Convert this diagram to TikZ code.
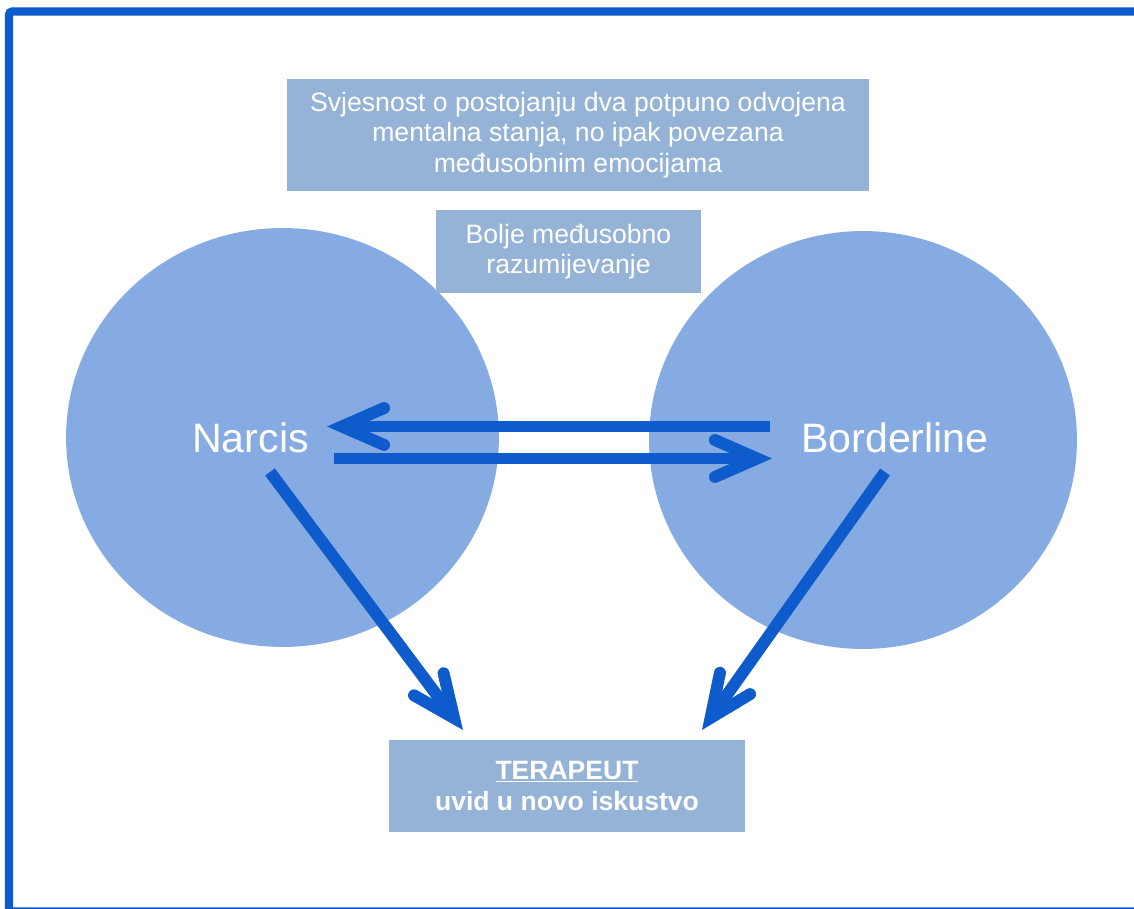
\documentclass[tikz,border=0pt]{standalone}
\usepackage{fontspec}
\setmainfont{Liberation Sans}
\usetikzlibrary{arrows.meta,shapes.geometric}
\definecolor{okvir}{RGB}{14,91,203}
\definecolor{krug}{RGB}{134,171,227}
\definecolor{kutija}{RGB}{149,179,215}
\begin{document}
\begin{tikzpicture}[x=0.02cm,y=-0.02cm,
	kutija/.style={fill=kutija,text=white,inner sep=0pt,align=center,font=\fontsize{15.15}{17.4}\selectfont},
	krug/.style={ellipse,fill=krug,inner sep=0pt},
	ime/.style={text=white,inner sep=0pt,anchor=base,font=\fontsize{23.4}{27}\selectfont},
	strelica/.style={okvir,line width=6.8pt,-{Straight Barb[length=24pt,width=21pt,line join=miter,line cap=round]}}]
	\clip (0,0) rectangle (1134,909);
	\useasboundingbox (0,0) rectangle (1134,909);
	\draw[okvir,line width=4.8pt,rounded corners=2pt] (9,11.5) rectangle (1145,911.5);
	% krugovi
	\node[krug,minimum width=8.66cm,minimum height=8.38cm] (narcis) at (282.5,437.5) {};
	\node[krug,minimum width=8.56cm,minimum height=8.36cm] (borderline) at (863,440) {};
	\node[ime] (narcis-ime) at (250.5,452) {Narcis};
	\node[ime] (borderline-ime) at (895,452) {Borderline};
	% kutije
	\node[kutija,minimum width=11.64cm,minimum height=2.26cm] (svijest) at (578,135)
		{Svjesnost o postojanju dva potpuno odvojena\\mentalna stanja, no ipak povezana\\međusobnim emocijama};
	\node[kutija,minimum width=5.3cm,minimum height=1.66cm] (razumijevanje) at (568.5,251.5)
		{Bolje međusobno\\razumijevanje};
	\node[kutija,minimum width=7.12cm,minimum height=1.84cm,font=\fontsize{15.1}{18.1}\selectfont\bfseries] (terapeut) at (567,786)
		{\underline{TERAPEUT}\\uvid u novo iskustvo};
	% strelice
	\coordinate (b-gore) at (770,426.5);
	\coordinate (n-gore) at (327,426.5);
	\coordinate (n-dolje) at (334,458.5);
	\coordinate (b-dolje) at (772,458.5);
	\coordinate (n-izlaz) at (270,472);
	\coordinate (t-lijevo) at (463,730);
	\coordinate (b-izlaz) at (885,472);
	\coordinate (t-desno) at (702,730);
	\draw[strelica] (b-gore) -- (n-gore);
	\draw[strelica] (n-dolje) -- (b-dolje);
	\draw[strelica] (n-izlaz) -- (t-lijevo);
	\draw[strelica] (b-izlaz) -- (t-desno);
\end{tikzpicture}
\end{document}
